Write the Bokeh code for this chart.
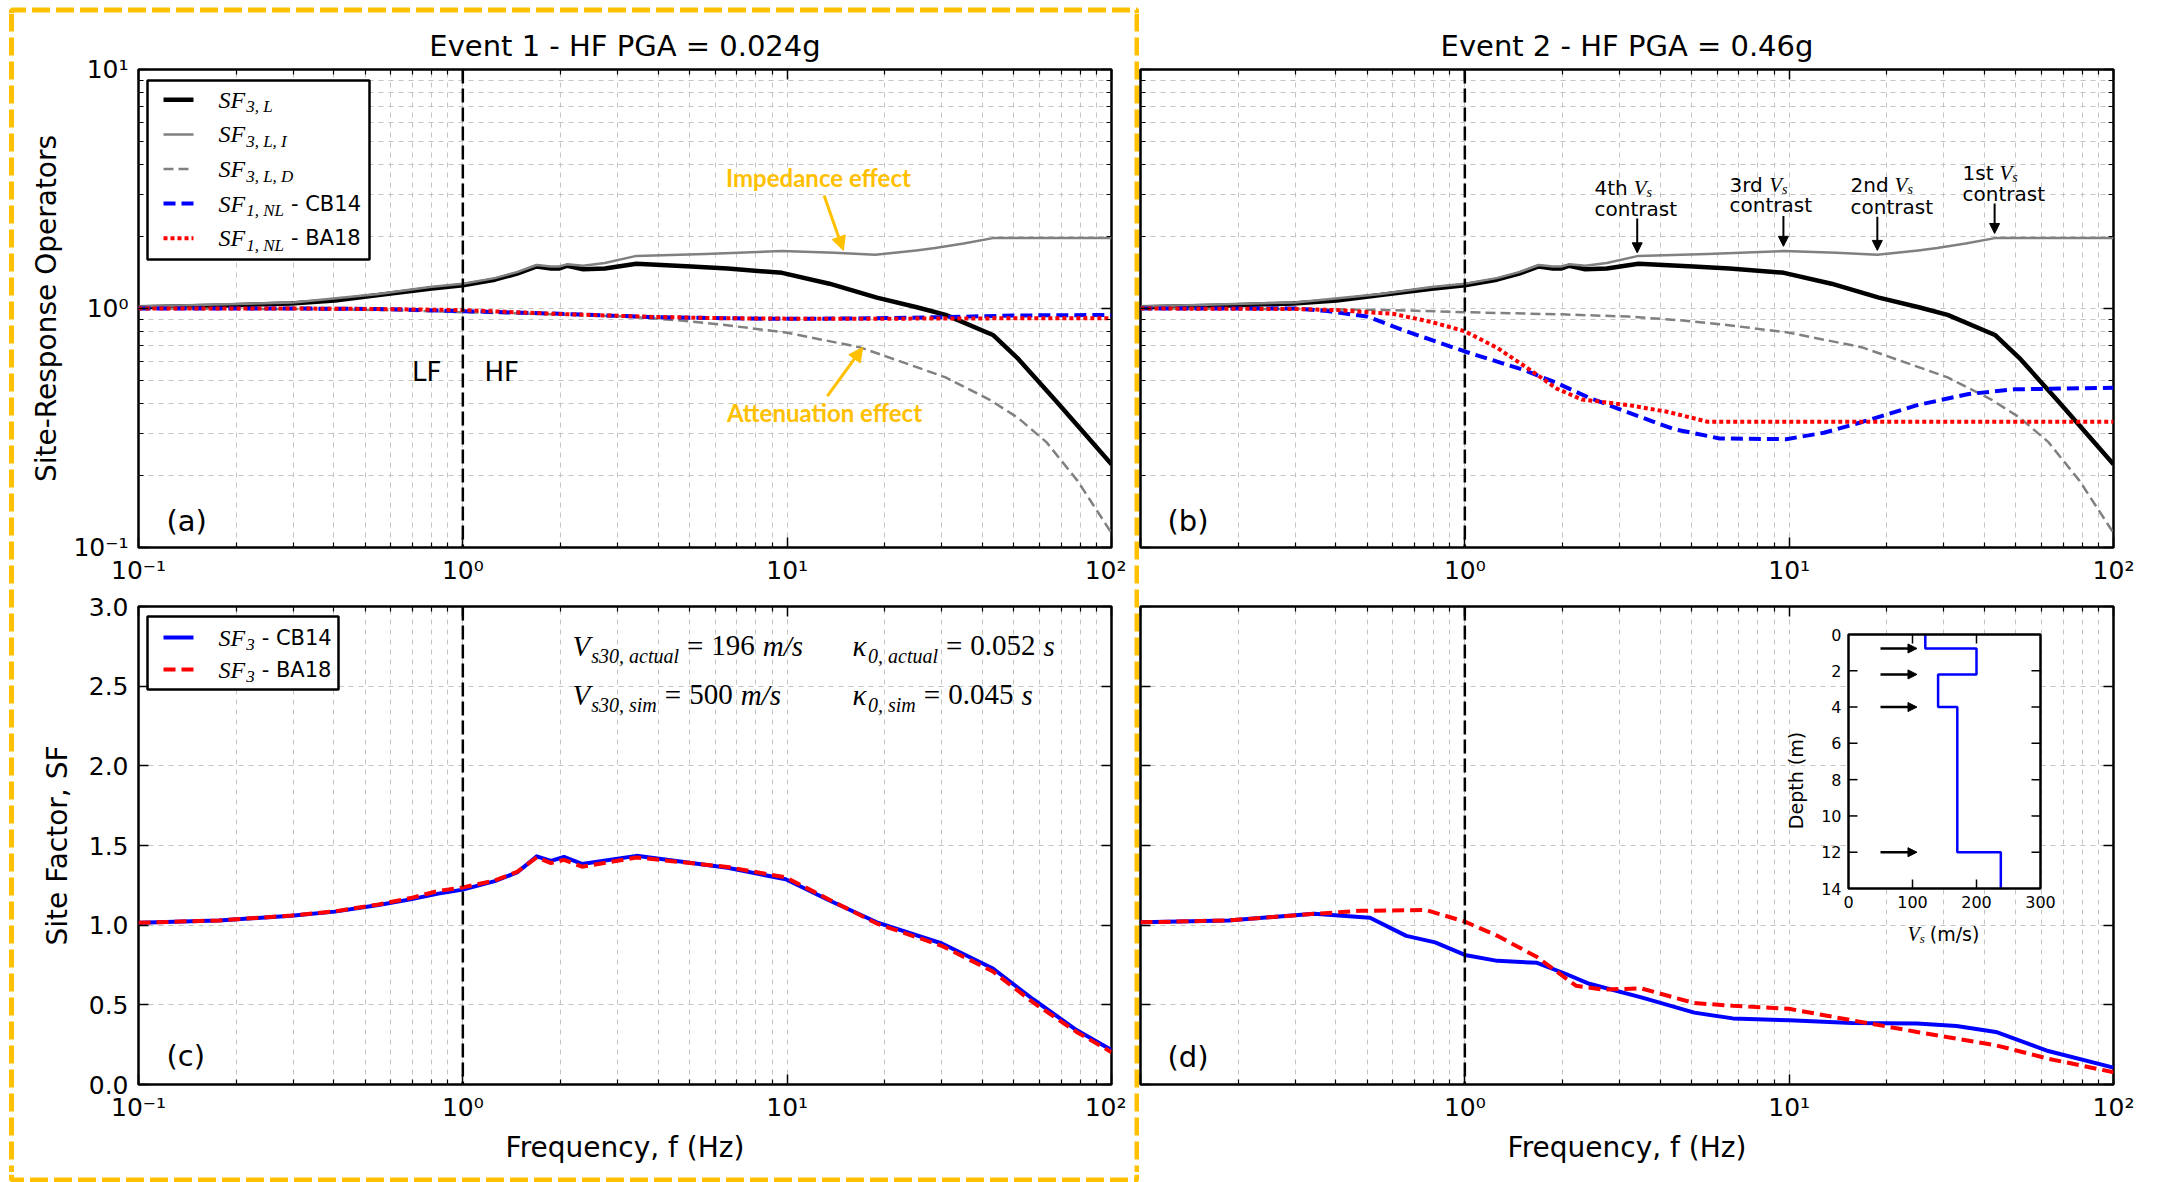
import math
from bokeh.plotting import figure
from bokeh.layouts import row, column
from bokeh.models import (Range1d, LinearScale, FixedTicker, CustomJSTickFormatter,
                          LogAxis, LinearAxis, Span, Arrow, NormalHead)
from bokeh.core.properties import value
from bokeh.embed import file_html
from bokeh.resources import INLINE

# ---------------------------------------------------------------- data
# Linear operators (identical for both events)
f_sf3l = [0.1, 0.177, 0.296, 0.403, 0.55, 0.79, 1.0, 1.255, 1.47, 1.69, 1.87, 1.98, 2.1,
          2.35, 2.74, 3.43, 5.06, 6.55, 9.64, 13.5, 18.9, 25.1, 30.8, 43.1, 51.6, 66.8, 82.2, 100]
sf3l = [1.012, 1.027, 1.05, 1.08, 1.14, 1.21, 1.25, 1.32, 1.40, 1.50, 1.47, 1.47, 1.51,
        1.46, 1.47, 1.54, 1.50, 1.47, 1.41, 1.27, 1.11, 1.012, 0.94, 0.775, 0.615, 0.416, 0.302, 0.223]

f_sf3li = [0.1, 0.3, 0.55, 0.79, 1.0, 1.255, 1.47, 1.69, 1.87, 1.98, 2.1, 2.35, 2.74, 3.43,
           5.6, 9.64, 14.0, 18.7, 25.0, 28.6, 35.0, 43.1, 100]
sf3li = [1.02, 1.06, 1.15, 1.23, 1.27, 1.34, 1.42, 1.52, 1.50, 1.50, 1.53, 1.51, 1.55, 1.66,
         1.69, 1.74, 1.71, 1.68, 1.75, 1.79, 1.87, 1.97, 1.97]

f_sf3ld = [0.1, 0.3, 0.6, 1.0, 2.0, 3.2, 4.56, 6.1, 9.9, 16.7, 23.8, 30.8, 42, 51.6, 63, 78.6, 100]
sf3ld = [1.0, 0.995, 0.985, 0.965, 0.945, 0.925, 0.894, 0.86, 0.794, 0.689, 0.583, 0.515,
         0.416, 0.348, 0.276, 0.19, 0.115]

# Nonlinear operators, event 1
f_nl1 = [0.1, 0.3, 0.55, 1.0, 2.0, 3.9, 6.5, 9.9, 19, 30, 52, 100]
nl1_cb14 = [1.0, 1.0, 0.995, 0.975, 0.95, 0.92, 0.91, 0.905, 0.91, 0.92, 0.935, 0.94]
nl1_ba18 = [1.0, 1.0, 0.995, 0.985, 0.948, 0.922, 0.91, 0.907, 0.906, 0.908, 0.91, 0.91]

# Nonlinear operators, event 2
f_nl2_cb14 = [0.1, 0.30, 0.377, 0.5, 0.66, 1.0, 1.52, 1.92, 2.42, 3.2, 4.4, 6.1, 9.8,
              12.8, 16.9, 24.8, 35.8, 49.6, 100]
nl2_cb14 = [1.0, 1.0, 0.975, 0.925, 0.803, 0.661, 0.553, 0.488, 0.423, 0.367, 0.313, 0.286,
            0.284, 0.302, 0.336, 0.394, 0.439, 0.459, 0.466]
f_nl2_ba18 = [0.1, 0.30, 0.4, 0.6, 0.79, 1.0, 1.26, 1.59, 1.92, 2.3, 3.2, 4.2, 5.6, 100]
nl2_ba18 = [1.0, 0.995, 0.985, 0.95, 0.878, 0.803, 0.684, 0.553, 0.462, 0.416, 0.394,
            0.37, 0.336, 0.336]

# Total site factors, event 1
f_sf1 = [0.1, 0.177, 0.296, 0.403, 0.55, 0.69, 0.84, 1.0, 1.255, 1.47, 1.69, 1.87, 2.05,
         2.33, 3.43, 6.55, 9.9, 13.5, 18.9, 30.0, 43.1, 57.3, 78.0, 100]
sf1_cb14 = [1.015, 1.03, 1.059, 1.085, 1.126, 1.162, 1.198, 1.223, 1.276, 1.331, 1.432,
            1.403, 1.428, 1.384, 1.435, 1.36, 1.288, 1.155, 1.018, 0.885, 0.728, 0.535, 0.342, 0.217]
sf1_ba18 = [1.015, 1.03, 1.06, 1.087, 1.13, 1.17, 1.215, 1.237, 1.28, 1.335, 1.425, 1.39,
            1.41, 1.367, 1.425, 1.365, 1.30, 1.16, 1.01, 0.87, 0.709, 0.515, 0.33, 0.203]

# Total site factors, event 2
f_sf2_cb14 = [0.1, 0.187, 0.343, 0.51, 0.66, 0.81, 1.0, 1.26, 1.67, 2.06, 2.42, 3.5, 5.1,
              6.7, 10, 15.6, 24.8, 32.8, 43.4, 62.9, 100]
sf2_cb14 = [1.018, 1.03, 1.071, 1.047, 0.933, 0.892, 0.813, 0.776, 0.764, 0.692, 0.632,
            0.547, 0.451, 0.415, 0.403, 0.386, 0.383, 0.367, 0.330, 0.21, 0.106]
f_sf2_ba18 = [0.1, 0.187, 0.343, 0.476, 0.76, 1.0, 1.26, 1.67, 2.2, 2.66, 3.5, 5.1, 6.7,
              10, 15.6, 24.8, 43.4, 62.9, 100]
sf2_ba18 = [1.018, 1.03, 1.071, 1.09, 1.095, 1.022, 0.933, 0.80, 0.62, 0.596, 0.603, 0.511,
            0.494, 0.475, 0.403, 0.33, 0.246, 0.162, 0.077]

# Shear-wave velocity profile (inset)
layer_top = [0.0, 0.77, 2.2, 4.0, 12.0]
layer_vs = [120, 200, 140, 170, 238]
profile_bottom = 14.0
contrast_depth = [0.77, 2.2, 4.0, 12.0]

# Vs contrasts marked on the impedance operator
contrast_names = ["4th", "3rd", "2nd", "1st"]
contrast_f = [3.4, 9.6, 18.7, 43.0]
contrast_arrow_from = [2.38, 2.44, 2.42, 2.75]
contrast_arrow_to = [1.71, 1.82, 1.75, 2.06]

# Ticks
x_major = [0.1, 1, 10, 100]
x_minor = [k * 10.0 ** e for e in (-1, 0, 1) for k in range(2, 10)]
y_major_log = [0.1, 1, 10]
y_minor_log = [k * 10.0 ** e for e in (-1, 0) for k in range(2, 10)]
sf_ticks = [0.0, 0.5, 1.0, 1.5, 2.0, 2.5, 3.0]
depth_ticks = [0, 2, 4, 6, 8, 10, 12, 14]
vs_ticks = [0, 100, 200, 300]

# ---------------------------------------------------------------- style
SANS = "DejaVu Sans"
SERIF = "Liberation Serif"
ORANGE = "#FFC000"
GRID = "#c4c4c4"
BLUE = "#0000ff"
RED = "#ff0000"
GRAY = "#808080"
FW, FH = 973, 478          # plot-area size of every panel

CW_SANS = {' ': .318, '-': .361, '(': .390, ')': .390, '/': .337, ',': .318, '.': .318,
           'A': .684, 'B': .686, 'C': .698, 'D': .770, 'F': .575, 'H': .752, 'L': .557,
           'a': .613, 'c': .550, 'd': .635, 'e': .615, 'h': .634, 'm': .974, 'n': .634,
           'o': .612, 'p': .635, 'r': .411, 's': .521, 't': .392}
CW_SERIF_I = {' ': .25, ',': .25, '/': .278, 'S': .5, 'F': .611, 'V': .611, 'L': .556,
              'N': .667, 'D': .722, 'I': .333, 's': .389, 'a': .5, 'c': .444, 't': .278,
              'u': .5, 'l': .278, 'i': .278, 'm': .722, '\u03ba': .5}
CW_SERIF = {' ': .25, '=': .564, '.': .25}


def text_width(s, font, style, size):
    if font == SANS:
        table, default = CW_SANS, 0.636
    elif style == "italic":
        table, default = CW_SERIF_I, 0.5
    else:
        table, default = CW_SERIF, 0.5
    return sum(table.get(c, default) for c in s) * size


def rich(p, x, y, pieces, xr="px", yr="py", ypp=1.0, color="black"):
    """Draw a run of text pieces side by side; a number in the run is a gap in px."""
    off = 0.0
    for piece in pieces:
        if isinstance(piece, (int, float)):
            off += piece
            continue
        s, size, font, style, dy = piece
        p.text(x=[x], y=[y + dy * ypp], text=[s], x_offset=off,
               text_font=value(font), text_font_size=f"{size}px", text_font_style=style,
               text_color=color, text_align="left", text_baseline="middle",
               x_range_name=xr, y_range_name=yr)
        off += text_width(s, font, style, size)


def txt(p, x, y, s, size, font=SANS, style="normal", color="black", align="left",
        baseline="middle", angle=0.0, xr="px", yr="py"):
    p.text(x=[x], y=[y], text=[s], text_font=value(font), text_font_size=f"{size}px",
           text_font_style=style, text_color=color, text_align=align,
           text_baseline=baseline, angle=angle, x_range_name=xr, y_range_name=yr)


def pow_fmt(min_exp):
    return CustomJSTickFormatter(code=f"""
const sup = {{"-": "\u207b", "0": "\u2070", "1": "\u00b9", "2": "\u00b2", "3": "\u00b3"}};
const e = Math.round(Math.log10(tick));
if (e < {min_exp}) return "";
return "10" + String(e).split("").map((c) => sup[c]).join("");
""")


def blank_fmt():
    return CustomJSTickFormatter(code='return "";')


def style_axis(ax, show):
    ax.axis_line_color = None
    ax.major_tick_in = 10
    ax.major_tick_out = 0
    ax.minor_tick_in = 5
    ax.minor_tick_out = 0
    ax.major_tick_line_color = "black"
    ax.major_tick_line_width = 1.5
    ax.minor_tick_line_color = "black"
    ax.minor_tick_line_width = 1.2
    ax.major_label_text_font = SANS
    ax.major_label_text_color = "black"
    ax.major_label_text_font_size = "25px" if show else "0px"
    ax.major_label_standoff = 8 if show else 0
    ax.axis_label_text_font = SANS
    ax.axis_label_text_font_size = "28px"
    ax.axis_label_text_font_style = "normal"
    ax.axis_label_text_color = "black"


def panel(width, height, borders, ylog, title=None, first_x=-1, y_labels=True,
          xlabel=None, ylabel=None, ylabel_standoff=12):
    left, right, top, bottom = borders
    p = figure(width=width, height=height, x_axis_type="log",
               y_axis_type="log" if ylog else "linear",
               x_range=Range1d(0.1, 100),
               y_range=Range1d(0.1, 10) if ylog else Range1d(0, 3),
               output_backend="svg", toolbar_location=None, title=title,
               min_border_left=left, min_border_right=right,
               min_border_top=top, min_border_bottom=bottom,
               background_fill_color="white", border_fill_color="white")
    p.outline_line_color = "black"
    p.outline_line_width = 2.5
    p.outline_line_alpha = 1.0
    if title:
        p.title.text_font = SANS
        p.title.text_font_size = "29px"
        p.title.text_font_style = "normal"
        p.title.text_color = "black"
        p.title.align = "center"
        p.title.standoff = 13

    xt = FixedTicker(ticks=x_major, minor_ticks=x_minor)
    if ylog:
        yt = FixedTicker(ticks=y_major_log, minor_ticks=y_minor_log)
    else:
        yt = FixedTicker(ticks=sf_ticks)

    xa = p.xaxis[0]
    ya = p.yaxis[0]
    xa.ticker = xt
    ya.ticker = yt
    style_axis(xa, True)
    style_axis(ya, y_labels)
    xa.formatter = pow_fmt(first_x)
    if y_labels:
        ya.formatter = pow_fmt(-1) if ylog else CustomJSTickFormatter(code="return tick.toFixed(1);")
        ya.major_label_standoff = 10
    else:
        ya.formatter = blank_fmt()
    if xlabel:
        xa.axis_label = xlabel
        xa.axis_label_standoff = 6
    if ylabel:
        ya.axis_label = ylabel
        ya.axis_label_standoff = ylabel_standoff

    top_ax = LogAxis(ticker=xt, formatter=blank_fmt())
    style_axis(top_ax, False)
    p.add_layout(top_ax, "above")
    right_ax = (LogAxis if ylog else LinearAxis)(ticker=yt, formatter=blank_fmt())
    style_axis(right_ax, False)
    p.add_layout(right_ax, "right")

    for g, t in ((p.xgrid[0], xt), (p.ygrid[0], yt)):
        g.ticker = t
        g.grid_line_color = GRID
        g.grid_line_dash = "5 5"
        g.grid_line_width = 1
    p.xgrid[0].minor_grid_line_color = GRID
    p.xgrid[0].minor_grid_line_dash = "5 5"
    if ylog:
        p.ygrid[0].minor_grid_line_color = GRID
        p.ygrid[0].minor_grid_line_dash = "5 5"

    # plot-area pixel frame for legends and notes (origin top-left)
    p.extra_x_ranges = {"px": Range1d(0, FW)}
    p.extra_y_ranges = {"py": Range1d(FH, 0)}
    p.extra_x_scales = {"px": LinearScale()}
    p.extra_y_scales = {"py": LinearScale()}

    p.add_layout(Span(location=1.0, dimension="height", line_color="black",
                      line_width=2.5, line_dash="14 5"))
    return p


def legend_box(p, box, rows, entries, sample=(25, 55), text_x=80):
    x0, y0, x1, y1 = box
    p.quad(left=[x0], right=[x1], top=[y0], bottom=[y1], fill_color="white",
           line_color="black", line_width=2.5, x_range_name="px", y_range_name="py")
    for yc, (color, lw, dash, pieces) in zip(rows, entries):
        p.line(x=list(sample), y=[yc, yc], line_color=color, line_width=lw,
               line_dash=dash, x_range_name="px", y_range_name="py")
        rich(p, text_x, yc, pieces)


def sf_label(sub, tail=None):
    pieces = [("SF", 24, SERIF, "italic", 0), 1, (sub, 17, SERIF, "italic", 7)]
    if tail:
        pieces += [7, (tail, 21, SANS, "normal", 0)]
    return pieces


# ---------------------------------------------------------------- page geometry
PAGE_W, PAGE_H = 2157, 1182
LEFT_W = 1139                 # block holding event 1
STRIP_T, STRIP_B = 13, 10     # strips carrying the dashed frame
STRIP_L, STRIP_R = 20, 13
A_W = LEFT_W - STRIP_L - STRIP_R
B_W = PAGE_W - LEFT_W
TOP_H, BOT_H = 590, 592
A_H = TOP_H - STRIP_T
C_H = PAGE_H - TOP_H - STRIP_B
FRAME_L = 138 - STRIP_L       # left border of event-1 panels

# ---------------------------------------------------------------- (a)
pa = panel(A_W, A_H, (FRAME_L, A_W - FRAME_L - FW, 69 - STRIP_T, A_H - (69 - STRIP_T) - FH),
           True, title="Event 1 - HF PGA = 0.024g", ylabel="Site-Response Operators",
           ylabel_standoff=7)
pa.line(f_sf3l, sf3l, line_color="black", line_width=4.5, line_join="round")
pa.line(f_sf3li, sf3li, line_color=GRAY, line_width=2.5, line_join="round")
pa.line(f_sf3ld, sf3ld, line_color=GRAY, line_width=2.5, line_dash="10 5")
pa.line(f_nl1, nl1_cb14, line_color=BLUE, line_width=4, line_dash="12 6")
pa.line(f_nl1, nl1_ba18, line_color=RED, line_width=4, line_dash="4 3")

legend_box(pa, (9, 11, 231, 190), [30.3 + 34.6 * i for i in range(5)], [
    ("black", 4.5, "solid", sf_label("3, L")),
    (GRAY, 2.5, "solid", sf_label("3, L, I")),
    (GRAY, 2.5, "10 5", sf_label("3, L, D")),
    (BLUE, 4, "12 6", sf_label("1, NL", "- CB14")),
    (RED, 4, "4 3", sf_label("1, NL", "- BA18")),
])

txt(pa, 303, 302, "LF", 26, align="right")
txt(pa, 346, 302, "HF", 26)
txt(pa, 680, 108, "Impedance effect", 24, font="Lato", style="bold", color=ORANGE, align="center")
txt(pa, 686, 343, "Attenuation effect", 24, font="Lato", style="bold", color=ORANGE, align="center")
pa.add_layout(Arrow(end=NormalHead(size=14, fill_color=ORANGE, line_color=ORANGE),
                    x_start=13.0, y_start=2.97, x_end=14.9, y_end=1.75,
                    line_color=ORANGE, line_width=3))
pa.add_layout(Arrow(end=NormalHead(size=14, fill_color=ORANGE, line_color=ORANGE),
                    x_start=13.3, y_start=0.43, x_end=17.1, y_end=0.687,
                    line_color=ORANGE, line_width=3))
txt(pa, 28, 451, "(a)", 29)

# ---------------------------------------------------------------- (b)
pb = panel(B_W, TOP_H, (1, B_W - 1 - FW, 69, TOP_H - 69 - FH), True,
           title="Event 2 - HF PGA = 0.46g", first_x=0, y_labels=False)
pb.line(f_sf3l, sf3l, line_color="black", line_width=4.5, line_join="round")
pb.line(f_sf3li, sf3li, line_color=GRAY, line_width=2.5, line_join="round")
pb.line(f_sf3ld, sf3ld, line_color=GRAY, line_width=2.5, line_dash="10 5")
pb.line(f_nl2_cb14, nl2_cb14, line_color=BLUE, line_width=4, line_dash="12 6")
pb.line(f_nl2_ba18, nl2_ba18, line_color=RED, line_width=4, line_dash="4 3")

contrast_text_x = [454, 589, 710, 822]
contrast_line1 = [118, 115, 115, 103]
contrast_line2 = [139, 135, 137, 124]
for name, fx, y0, y1, tx, l1, l2 in zip(contrast_names, contrast_f, contrast_arrow_from,
                                         contrast_arrow_to, contrast_text_x,
                                         contrast_line1, contrast_line2):
    rich(pb, tx, l1, [(name, 20, SANS, "normal", 0), 6,
                      ("V", 21, SERIF, "italic", 0), ("s", 14, SERIF, "italic", 5)])
    txt(pb, tx, l2, "contrast", 20)
    pb.add_layout(Arrow(end=NormalHead(size=10, fill_color="black", line_color="black"),
                        x_start=fx, y_start=y0, x_end=fx, y_end=y1,
                        line_color="black", line_width=2))
txt(pb, 27, 451, "(b)", 29)

# ---------------------------------------------------------------- (c)
pc = panel(A_W, C_H, (FRAME_L, A_W - FRAME_L - FW, 16, C_H - 16 - FH), False,
           xlabel="Frequency, f (Hz)", ylabel="Site Factor, SF")
pc.line(f_sf1, sf1_cb14, line_color=BLUE, line_width=4, line_join="round")
pc.line(f_sf1, sf1_ba18, line_color=RED, line_width=4, line_dash="12 6")
legend_box(pc, (9, 10, 200, 83), [31, 63], [
    (BLUE, 4, "solid", sf_label("3", "- CB14")),
    (RED, 4, "12 6", sf_label("3", "- BA18")),
])


def eq_row(p, x, y, sym, sub, num, unit):
    rich(p, x, y, [(sym, 29, SERIF, "italic", 0), 1, (sub, 20, SERIF, "italic", 10), 8,
                   ("=", 29, SERIF, "normal", 0), 8, (num, 29, SERIF, "normal", 0), 8,
                   (unit, 29, SERIF, "italic", 0)])


eq_row(pc, 434, 39, "V", "s30, actual", "196", "m/s")
eq_row(pc, 434, 88, "V", "s30, sim", "500", "m/s")
eq_row(pc, 714, 39, "\u03ba", "0, actual", "0.052", "s")
eq_row(pc, 714, 88, "\u03ba", "0, sim", "0.045", "s")
txt(pc, 28, 449, "(c)", 29)

# ---------------------------------------------------------------- (d)
pd_ = panel(B_W, BOT_H, (1, B_W - 1 - FW, 16, BOT_H - 16 - FH), False,
            first_x=0, y_labels=False, xlabel="Frequency, f (Hz)")
pd_.line(f_sf2_cb14, sf2_cb14, line_color=BLUE, line_width=4, line_join="round")
pd_.line(f_sf2_ba18, sf2_ba18, line_color=RED, line_width=4, line_dash="12 6")
txt(pd_, 27, 450, "(d)", 29)

# inset: Vs profile, placed in its own linear ranges over the plot area
IN_L, IN_T, IN_R, IN_B = 708, 28, 900, 282
VS_MAX = 300.0
sx = VS_MAX / (IN_R - IN_L)
sy = profile_bottom / (IN_B - IN_T)
pd_.extra_x_ranges["ix"] = Range1d(-IN_L * sx, VS_MAX + (FW - IN_R) * sx)
pd_.extra_y_ranges["iy"] = Range1d(profile_bottom + (FH - IN_B) * sy, -IN_T * sy)
pd_.extra_x_scales["ix"] = LinearScale()
pd_.extra_y_scales["iy"] = LinearScale()
I = dict(x_range_name="ix", y_range_name="iy")

pd_.quad(left=[0], right=[VS_MAX], top=[0], bottom=[profile_bottom],
         fill_color="white", line_color=None, **I)
prof_x, prof_y = [], []
for d0, d1, v in zip(layer_top, layer_top[1:] + [profile_bottom], layer_vs):
    prof_x += [v, v]
    prof_y += [d0, d1]
pd_.line(prof_x, prof_y, line_color=BLUE, line_width=2.5, **I)
for d in contrast_depth:
    pd_.add_layout(Arrow(end=NormalHead(size=9, fill_color="black", line_color="black"),
                         x_start=50, y_start=d, x_end=107, y_end=d,
                         line_color="black", line_width=2.5, **I))
tick_x = 9 * sx
tick_y = 9 * sy
inner_depths = depth_ticks[1:-1]
pd_.segment(x0=[0] * len(inner_depths), x1=[tick_x] * len(inner_depths),
            y0=inner_depths, y1=inner_depths, line_color="black", line_width=1.5, **I)
pd_.segment(x0=[VS_MAX - tick_x] * len(inner_depths), x1=[VS_MAX] * len(inner_depths),
            y0=inner_depths, y1=inner_depths, line_color="black", line_width=1.5, **I)
inner_vs = vs_ticks[1:-1]
pd_.segment(x0=inner_vs, x1=inner_vs, y0=[profile_bottom] * len(inner_vs),
            y1=[profile_bottom - tick_y] * len(inner_vs), line_color="black", line_width=1.5, **I)
pd_.segment(x0=inner_vs, x1=inner_vs, y0=[0] * len(inner_vs),
            y1=[tick_y] * len(inner_vs), line_color="black", line_width=1.5, **I)
pd_.quad(left=[0], right=[VS_MAX], top=[0], bottom=[profile_bottom],
         fill_color=None, line_color="black", line_width=2.5, **I)
pd_.text(x=[0] * len(depth_ticks), y=depth_ticks, text=[str(d) for d in depth_ticks],
         x_offset=-7, text_align="right", text_baseline="middle",
         text_font=value(SANS), text_font_size="16px", text_color="black", **I)
pd_.text(x=vs_ticks, y=[profile_bottom + 7 * sy] * len(vs_ticks), text=[str(v) for v in vs_ticks],
         text_align="center", text_baseline="top",
         text_font=value(SANS), text_font_size="16px", text_color="black", **I)
txt(pd_, -53 * sx, 8.05, "Depth (m)", 19, align="center",
    angle=math.pi / 2, xr="ix", yr="iy")
rich(pd_, 59 * sx, 16.5, [("V", 20, SERIF, "italic", 0), ("s", 13, SERIF, "italic", 5), 5,
                          ("(m/s)", 19, SANS, "normal", 0)], xr="ix", yr="iy", ypp=sy)

# ---------------------------------------------------------------- dashed frame around event 1
FR_L, FR_R, FR_T, FR_B = 11, 1136.5, 9.5, 1177.5   # centre of the frame line, page px


def strip(w, h, xs, ys):
    s = figure(width=w, height=h, x_range=Range1d(0, w), y_range=Range1d(h, 0),
               x_axis_location=None, y_axis_location=None, toolbar_location=None,
               output_backend="svg", title=None, min_border=0,
               background_fill_color="white", border_fill_color="white")
    s.outline_line_color = None
    s.grid.visible = False
    s.line(xs, ys, line_color=ORANGE, line_width=5, line_dash="18 6")
    return s


mid_h = PAGE_H - STRIP_T - STRIP_B
top_strip = strip(LEFT_W, STRIP_T, [FR_L, FR_L, FR_R, FR_R], [STRIP_T, FR_T, FR_T, STRIP_T])
bottom_y = FR_B - (PAGE_H - STRIP_B)
bottom_strip = strip(LEFT_W, STRIP_B, [FR_L, FR_L, FR_R, FR_R], [0, bottom_y, bottom_y, 0])
left_strip = strip(STRIP_L, mid_h, [FR_L, FR_L], [0, mid_h])
right_x = FR_R - (LEFT_W - STRIP_R)
right_strip = strip(STRIP_R, mid_h, [right_x, right_x], [0, mid_h])

left_block = column(top_strip, row(left_strip, column(pa, pc), right_strip), bottom_strip)
layout = row(left_block, column(pb, pd_))
open("out.html", "w").write(file_html(layout, INLINE))
